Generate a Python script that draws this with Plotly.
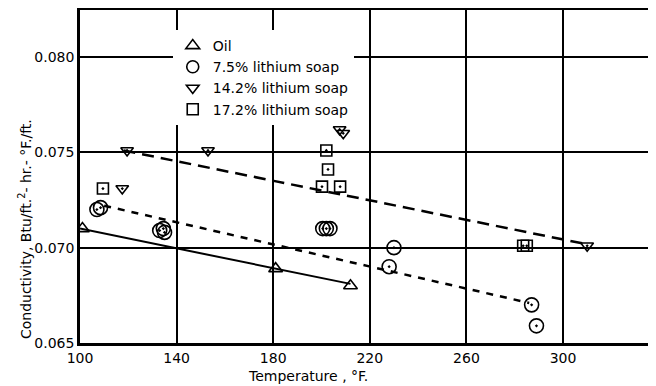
import plotly.graph_objects as go

# Data
oil_T = [101, 181, 212]
oil_k = [0.0710, 0.0689, 0.0680]

s75_T = [107, 108.5, 133, 134.5, 135, 200.5, 202, 203.5, 230, 228, 287, 289]
s75_k = [0.0720, 0.0721, 0.0709, 0.0710, 0.0708, 0.0710, 0.0710, 0.0710, 0.0700, 0.0690, 0.0670, 0.0659]

s142_T = [119.5, 117.5, 153, 207.5, 209, 310]
s142_k = [0.0751, 0.0731, 0.0751, 0.0762, 0.0760, 0.0701]

s172_T = [109.5, 202, 202.7, 200.2, 207.7, 283.5, 285]
s172_k = [0.0731, 0.0751, 0.0741, 0.0732, 0.0732, 0.0701, 0.0701]

# Fitted lines (end points)
oil_fit_T = [100, 212]
oil_fit_k = [0.0710, 0.0681]
s75_fit_T = [110, 286]
s75_fit_k = [0.0722, 0.0671]
s142_fit_T = [118, 309]
s142_fit_k = [0.0751, 0.0702]

x_ticks = [100, 140, 180, 220, 260, 300]
y_ticks = [0.065, 0.070, 0.075, 0.080]

FONT = "DejaVu Sans"
fig = go.Figure()

fig.add_trace(go.Scatter(x=oil_fit_T, y=oil_fit_k, mode="lines",
                         line=dict(color="black", width=2), showlegend=False))
fig.add_trace(go.Scatter(x=s75_fit_T, y=s75_fit_k, mode="lines",
                         line=dict(color="black", width=2.5, dash="7px,7px"), showlegend=False))
fig.add_trace(go.Scatter(x=s142_fit_T, y=s142_fit_k, mode="lines",
                         line=dict(color="black", width=2.5, dash="12px,7px"), showlegend=False))

def pts(x, y, sym, size):
    fig.add_trace(go.Scatter(x=x, y=y, mode="markers", showlegend=False,
                             marker=dict(symbol=sym, size=size, color="black",
                                         line=dict(color="black", width=1.6))))

pts(oil_T, oil_k, "triangle-up-open", 12)
pts(s75_T, s75_k, "circle-open-dot", 14)
pts(s142_T, s142_k, "triangle-down-open-dot", 11)
pts(s172_T, s172_k, "square-open-dot", 11)

# legend entries
for name, sym, size in [("Oil", "triangle-up-open", 12),
                        ("7.5% lithium soap", "circle-open", 12),
                        ("14.2% lithium soap", "triangle-down-open", 11),
                        ("17.2% lithium soap", "square-open", 11)]:
    fig.add_trace(go.Scatter(x=[None], y=[None], mode="markers", name=name,
                             marker=dict(symbol=sym, size=size, color="black",
                                         line=dict(color="black", width=1.6))))

fig.update_layout(
    width=648, height=378,
    margin=dict(l=72, r=0, t=2, b=43, autoexpand=False),
    paper_bgcolor="white", plot_bgcolor="white",
    font=dict(family=FONT, size=14, color="black"),
    legend=dict(x=0.161, y=0.94, xanchor="left", yanchor="top",
                bgcolor="white", font=dict(family=FONT, size=14),
                itemwidth=30, tracegroupgap=0),
    xaxis=dict(range=[100, 338.5], tickvals=x_ticks, showgrid=True, gridcolor="black",
               gridwidth=1.5, zeroline=False, showline=True, linecolor="black",
               linewidth=2.5, mirror=True, ticks="", automargin=False,
               tickfont=dict(size=14)),
    yaxis=dict(range=[0.065, 0.082465], tickvals=y_ticks, tickformat=".3f",
               showgrid=True, gridcolor="black", gridwidth=1.5, zeroline=False,
               showline=True, linecolor="black", linewidth=2.5, ticks="",
               automargin=False, tickfont=dict(size=14)),
    annotations=[
        dict(text="Conductivity, Btu/ft.<sup>2</sup>- hr.- °F./ft.",
             textangle=-90, xref="paper", yref="paper", x=-0.095, y=0.343,
             xanchor="center", yanchor="middle", showarrow=False,
             font=dict(family=FONT, size=14)),
        dict(text="Temperature , °F.", xref="paper", yref="paper",
             x=0.396, y=-0.099, xanchor="center", yanchor="middle",
             showarrow=False, font=dict(family=FONT, size=14)),
    ],
)

fig.write_html("out.html")
